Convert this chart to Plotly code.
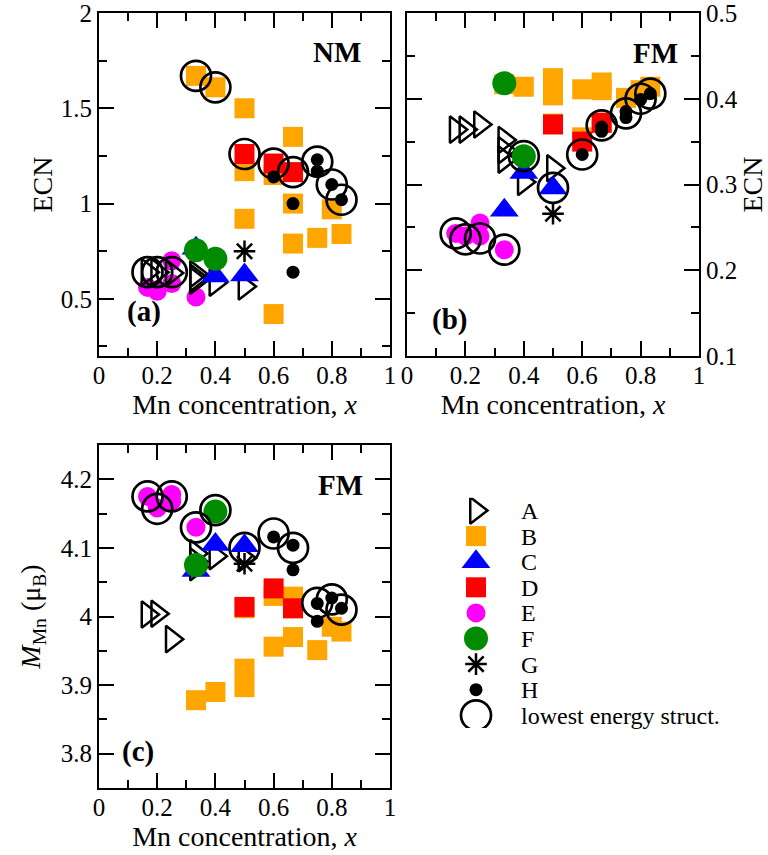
import plotly.graph_objects as go

# ---------------- data ----------------
A_x = [0.1667, 0.2, 0.25, 0.3333, 0.3333, 0.3333, 0.4, 0.5]
A_nm = [0.64, 0.64, 0.635, 0.63, 0.61, 0.595, 0.585, 0.565]
A_fm = [0.364, 0.364, 0.370, 0.352, 0.340, 0.329, 0.303, 0.319]
A_m = [4.003, 4.004, 3.967, 4.092, 4.080, 4.072, 4.088, 4.085]

B_x = [0.3333, 0.4, 0.5, 0.5, 0.5, 0.6, 0.6, 0.6667, 0.6667, 0.6667, 0.75, 0.8, 0.8333]
B_nm = [1.67, 1.61, 1.50, 1.17, 0.92, 1.15, 0.42, 1.35, 1.00, 0.79, 0.82, 0.97, 0.84]
B_fm = [0.417, 0.414, 0.424, 0.404, 0.371, 0.411, 0.355, 0.419, 0.372, 0.410, 0.401, 0.410, 0.414]
B_m = [3.878, 3.890, 3.924, 3.897, 4.012, 3.956, 4.030, 4.029, 3.970, 4.012, 3.951, 3.985, 3.978]

C_x = [0.3333, 0.4, 0.5]
C_nm = [0.765, 0.62, 0.625]
C_fm = [0.270, 0.314, 0.296]
C_m = [4.067, 4.105, 4.103]

D_x = [0.5, 0.6, 0.6667]
D_nm = [1.26, 1.21, 1.165]
D_fm = [0.370, 0.350, 0.372]
D_m = [4.014, 4.041, 4.012]

E_x = [0.1667, 0.2, 0.25, 0.25, 0.3333]
E_nm = [0.56, 0.54, 0.70, 0.58, 0.51]
E_fm = [0.243, 0.240, 0.255, 0.240, 0.224]
E_m = [4.175, 4.158, 4.178, 4.168, 4.130]

F_x = [0.3333, 0.4]
F_nm = [0.755, 0.71]
F_fm = [0.418, 0.333]
F_m = [4.075, 4.153]

G_x = [0.5]
G_nm = [0.75]
G_fm = [0.266]
G_m = [4.077]

H_x = [0.6, 0.6667, 0.6667, 0.75, 0.75, 0.8, 0.8333]
H_nm = [1.14, 1.00, 0.64, 1.23, 1.17, 1.10, 1.02]
H_fm = [0.335, 0.367, 0.362, 0.385, 0.378, 0.399, 0.406]
H_m = [4.116, 4.104, 4.068, 4.019, 3.993, 4.027, 4.012]

L_x = [0.1667, 0.2, 0.25, 0.3333, 0.4, 0.5, 0.6, 0.6667, 0.75, 0.8, 0.8333]
L_nm = [0.64, 0.64, 0.64, 1.67, 1.61, 1.26, 1.21, 1.165, 1.22, 1.10, 1.02]
L_fm = [0.243, 0.236, 0.237, 0.224, 0.333, 0.296, 0.335, 0.369, 0.383, 0.400, 0.406]
L_m = [4.175, 4.157, 4.175, 4.130, 4.155, 4.100, 4.121, 4.100, 4.020, 4.025, 4.010]

legend_labels = ["A", "B", "C", "D", "E", "F", "G", "H", "lowest energy struct."]

# ---------------- styles ----------------
FONT = "Liberation Serif"
STYLE = {
    "A": dict(symbol="triangle-right-open", size=23, color="black", line=dict(width=2.5, color="black")),
    "B": dict(symbol="square", size=20, color="#FFA500", line=dict(width=0)),
    "C": dict(symbol="triangle-up", size=25, color="#0000FF", line=dict(width=0)),
    "D": dict(symbol="square", size=20, color="#FF0000", line=dict(width=0)),
    "E": dict(symbol="circle", size=19, color="#FF00FF", line=dict(width=0)),
    "F": dict(symbol="circle", size=24, color="#008B00", line=dict(width=0)),
    "G": dict(symbol="asterisk-open", size=18, color="black", line=dict(width=2.5, color="black")),
    "H": dict(symbol="circle", size=13, color="black", line=dict(width=0)),
    "L": dict(symbol="circle-open", size=30, color="black", line=dict(width=2.7, color="black")),
}

series = {
    "A": (A_x, A_nm, A_fm, A_m),
    "B": (B_x, B_nm, B_fm, B_m),
    "C": (C_x, C_nm, C_fm, C_m),
    "D": (D_x, D_nm, D_fm, D_m),
    "E": (E_x, E_nm, E_fm, E_m),
    "F": (F_x, F_nm, F_fm, F_m),
    "G": (G_x, G_nm, G_fm, G_m),
    "H": (H_x, H_nm, H_fm, H_m),
    "L": (L_x, L_nm, L_fm, L_m),
}
draw_order = ["E", "A", "B", "C", "D", "F", "G", "H", "L"]

W, Hh = 768, 855
def fx(p):
    return p / W
def fy(p):
    return 1 - p / Hh

fig = go.Figure()
panels = [("x", "y", 1), ("x2", "y2", 2), ("x3", "y3", 3)]
for xa, ya, idx in panels:
    for k in draw_order:
        xs = series[k][0]
        ys = series[k][idx]
        fig.add_trace(go.Scatter(x=xs, y=ys, mode="markers", xaxis=xa, yaxis=ya,
                                 marker=STYLE[k], showlegend=False, hoverinfo="skip"))

# legend keys drawn on a category axis
for k, lab in zip(["A", "B", "C", "D", "E", "F", "G", "H", "L"], legend_labels):
    fig.add_trace(go.Scatter(x=[0], y=[lab], mode="markers", xaxis="x4", yaxis="y4",
                             marker=STYLE[k], showlegend=False, hoverinfo="skip"))

tickfont = dict(family=FONT, size=25, color="black")
titlefont = dict(family=FONT, size=28, color="black")

def ax(**kw):
    d = dict(showline=True, linewidth=2, linecolor="black", mirror="ticks",
             ticks="inside", ticklen=15, tickwidth=2, tickcolor="black",
             showgrid=False, zeroline=False, tickfont=tickfont, automargin=False,
             ticklabelstandoff=0, ticklabeloverflow="allow")
    d.update(kw)
    return d

def minor(dt):
    return dict(ticks="inside", ticklen=8, tickwidth=2, tickcolor="black", dtick=dt, showgrid=False)

xdomA = [fx(99), fx(390)]
xdomB = [fx(407), fx(699)]
ydomAB = [fy(356), fy(13)]
ydomC = [fy(788), fy(445)]

xtitle = dict(text="Mn concentration, <i>x</i>", font=titlefont, standoff=2)

fig.update_layout(
    width=W, height=Hh, template="none",
    margin=dict(l=0, r=0, t=0, b=0),
    paper_bgcolor="white", plot_bgcolor="white",
    font=dict(family=FONT, color="black"),
    showlegend=False,
    xaxis=ax(domain=xdomA, range=[0, 1], dtick=0.2, tick0=0, minor=minor(0.1), anchor="y",
             title=xtitle, ticklabelstandoff=-4),
    yaxis=ax(domain=ydomAB, range=[0.2, 2], dtick=0.5, tick0=0, minor=minor(0.25), anchor="x",
             title=dict(text="ECN", font=titlefont, standoff=0)),
    xaxis2=ax(domain=xdomB, range=[0, 1], dtick=0.2, tick0=0, minor=minor(0.1), anchor="y2",
              title=xtitle, ticklabelstandoff=-4),
    yaxis2=ax(domain=ydomAB, range=[0.1, 0.5], dtick=0.1, tick0=0, minor=minor(0.05), anchor="x2",
              side="right", title=dict(text="ECN", font=titlefont, standoff=18)),
    xaxis3=ax(domain=xdomA, range=[0, 1], dtick=0.2, tick0=0, minor=minor(0.1), anchor="y3",
              title=xtitle, ticklabelstandoff=-4),
    yaxis3=ax(domain=ydomC, range=[3.75, 4.25], dtick=0.1, tick0=0, minor=minor(0.05), anchor="x3",
              title=dict(text="<i>M</i><sub>Mn</sub> (μ<sub>B</sub>)", font=titlefont, standoff=12)),
    xaxis4=dict(domain=[fx(446), fx(506)], range=[-1, 1], visible=False, fixedrange=True),
    yaxis4=dict(domain=[fy(728.1), fy(497.7)], anchor="x4", type="category",
                categoryorder="array", categoryarray=legend_labels, range=[8.5, -0.5],
                tickmode="array", tickvals=legend_labels, ticktext=legend_labels,
                side="right", showline=False, ticks="", showgrid=False, zeroline=False,
                tickfont=dict(family=FONT, size=24, color="black"), automargin=False,
                ticklabelstandoff=14, ticklabeloverflow="allow"),
)

def label(text, xref, yref, x, y, xanchor):
    fig.add_annotation(text=text, xref=xref, yref=yref, x=x, y=y, xanchor=xanchor,
                       yanchor="middle", showarrow=False,
                       font=dict(family=FONT, size=29, color="black"))

label("<b>NM</b>", "x domain", "y domain", 0.907, 0.886, "right")
label("<b>FM</b>", "x2 domain", "y2 domain", 0.935, 0.883, "right")
label("<b>FM</b>", "x3 domain", "y3 domain", 0.914, 0.883, "right")
label("<b>(a)</b>", "x domain", "y domain", 0.089, 0.129, "left")
label("<b>(b)</b>", "x2 domain", "y2 domain", 0.079, 0.105, "left")
label("<b>(c)</b>", "x3 domain", "y3 domain", 0.072, 0.106, "left")

fig.write_html(
    "out.html",
    config={"displayModeBar": False},
    post_script="document.body.style.margin='0px';document.body.style.padding='0px';"
                "document.body.style.overflow='hidden';",
)
